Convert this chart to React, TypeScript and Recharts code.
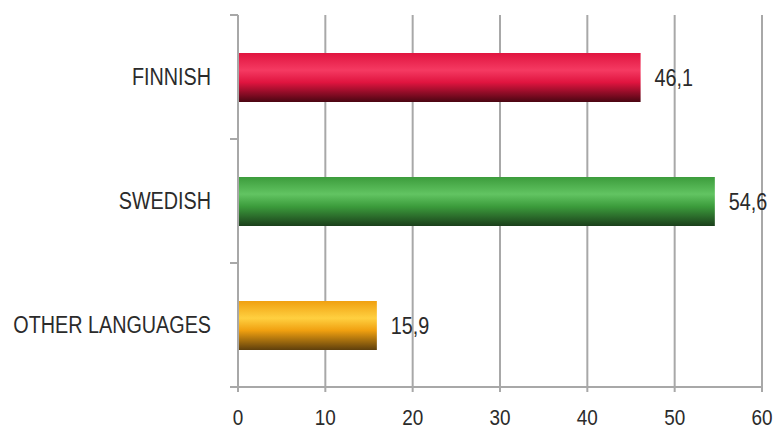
import { Bar, BarChart, CartesianGrid, Cell, LabelList, XAxis, YAxis } from 'recharts';

const languages = ['FINNISH', 'SWEDISH', 'OTHER LANGUAGES'];
const shares = [46.1, 54.6, 15.9];
const xTicks = [0, 10, 20, 30, 40, 50, 60];

// top / highlight / bottom stops of each bar's cylinder shading
const barShades = [
  ['#e0143f', '#f53a62', '#4a0612'],
  ['#3c9c3c', '#62c462', '#1b3f1b'],
  ['#f0a010', '#ffd040', '#5e3f0c'],
];

const data = languages.map((name, i) => ({ name, value: shares[i] }));

// the original uses a narrow sans; squeeze Liberation Sans to get close
const FONT = "'Liberation Sans', Arial, sans-serif";
const SQUEEZE = 0.86;
const TEXT = '#2b2b2b';
const AXIS_GRAY = '#a8a8a8';
const LABEL_GAP = 27;

function NarrowText({ x, y, anchor, dy, size, children }: any) {
  return (
    <g transform={`translate(${x},${y}) scale(${SQUEEZE},1)`}>
      <text x={0} y={0} dy={dy} textAnchor={anchor} fontSize={size} fill={TEXT} fontFamily={FONT}>
        {children}
      </text>
    </g>
  );
}

function LanguageTick(props: any) {
  const { x, y, payload, index } = props;
  const axisX = x + LABEL_GAP;
  const half = payload?.offset ?? 62;
  return (
    <g>
      <NarrowText x={x} y={y} anchor="end" dy="0.36em" size={23}>
        {payload.value}
      </NarrowText>
      <line x1={axisX - 8} x2={axisX} y1={y - half} y2={y - half} stroke={AXIS_GRAY} strokeWidth={2} />
      {index === languages.length - 1 && (
        <line x1={axisX - 8} x2={axisX} y1={y + half} y2={y + half} stroke={AXIS_GRAY} strokeWidth={2} />
      )}
    </g>
  );
}

function ValueTick(props: any) {
  const { x, y, payload } = props;
  return (
    <NarrowText x={x} y={y} anchor="middle" dy="0.71em" size={22}>
      {payload.value}
    </NarrowText>
  );
}

function ValueLabel(props: any) {
  const { x, y, width, height, value } = props;
  return (
    <NarrowText x={x + width + 14} y={y + height / 2} anchor="start" dy="0.36em" size={23}>
      {String(value).replace('.', ',')}
    </NarrowText>
  );
}

export default function App() {
  return (
    <div style={{ position: 'absolute', left: 0, top: 0, background: '#fff' }}>
      <BarChart
        width={773}
        height={430}
        data={data}
        layout="vertical"
        margin={{ top: 15, right: 11, left: 0, bottom: 0 }}
        barSize={49}
      >
        <defs>
          {barShades.map((c, i) => (
            <linearGradient key={i} id={`shade${i}`} x1="0" y1="0" x2="0" y2="1">
              <stop offset="0%" stopColor={c[0]} />
              <stop offset="35%" stopColor={c[1]} />
              <stop offset="60%" stopColor={c[0]} />
              <stop offset="100%" stopColor={c[2]} />
            </linearGradient>
          ))}
        </defs>
        <CartesianGrid horizontal={false} stroke={AXIS_GRAY} strokeWidth={2} />
        <XAxis
          type="number"
          domain={[0, 60]}
          ticks={xTicks}
          height={43}
          stroke={AXIS_GRAY}
          strokeWidth={2}
          tickSize={5}
          tickMargin={17}
          tick={<ValueTick />}
        />
        <YAxis
          type="category"
          dataKey="name"
          width={238}
          stroke={AXIS_GRAY}
          strokeWidth={2}
          tickLine={false}
          tickSize={0}
          tickMargin={LABEL_GAP}
          tick={<LanguageTick />}
        />
        <Bar dataKey="value" isAnimationActive={false}>
          {data.map((d, i) => (
            <Cell key={d.name} fill={`url(#shade${i})`} />
          ))}
          <LabelList dataKey="value" content={<ValueLabel />} />
        </Bar>
      </BarChart>
    </div>
  );
}
